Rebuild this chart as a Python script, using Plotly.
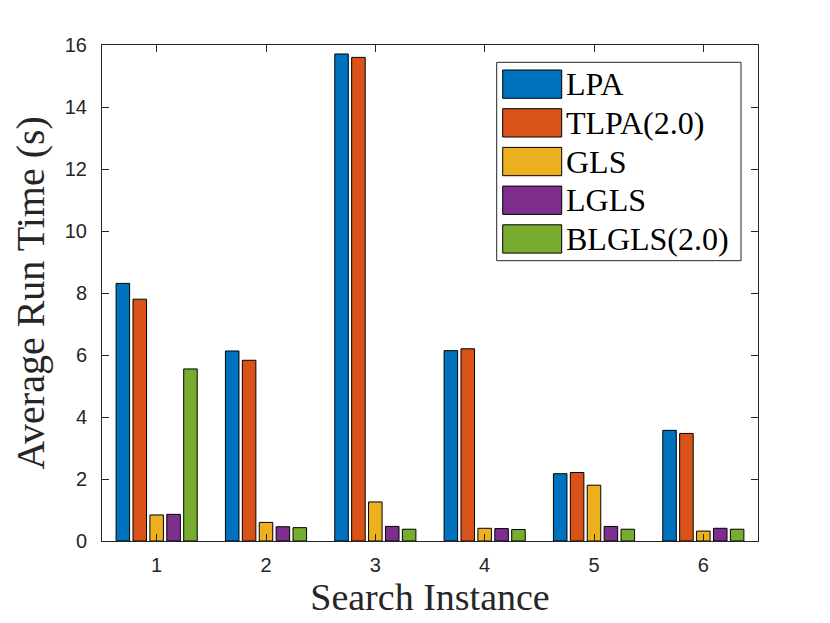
import plotly.graph_objects as go

instances = [1, 2, 3, 4, 5, 6]
series_names = ["LPA", "TLPA(2.0)", "GLS", "LGLS", "BLGLS(2.0)"]
lpa = [8.31, 6.13, 15.71, 6.14, 2.17, 3.57]
tlpa = [7.80, 5.83, 15.60, 6.20, 2.21, 3.47]
gls = [0.84, 0.60, 1.26, 0.41, 1.80, 0.32]
lgls = [0.86, 0.46, 0.47, 0.40, 0.47, 0.41]
blgls = [5.55, 0.43, 0.38, 0.37, 0.38, 0.38]
series_values = [lpa, tlpa, gls, lgls, blgls]
colors = ["#0072BD", "#D95319", "#EDB120", "#7E2F8E", "#77AC30"]
y_ticks = [0, 2, 4, 6, 8, 10, 12, 14, 16]

fig = go.Figure()
for name, vals, col in zip(series_names, series_values, colors):
    fig.add_trace(go.Bar(x=instances, y=vals, name=name, marker_color=col,
                         marker_line_color="#000000", marker_line_width=1,
                         showlegend=False))

axis_col = "#262626"
serif = "Liberation Serif, Times New Roman, serif"
sans = "Liberation Sans, Arial, Helvetica, sans-serif"

# page body has an 8px default margin; the figure is sized to fill the rest
fig.update_layout(
    width=822, height=615, autosize=False,
    margin=dict(l=94, r=72, t=37, b=82),
    paper_bgcolor="white", plot_bgcolor="white",
    barmode="group", bargap=0.227, bargroupgap=0.2,
    xaxis=dict(range=[0.5, 6.5], tickvals=instances, ticktext=[str(i) for i in instances],
               showline=True, linecolor=axis_col, linewidth=1, mirror="ticks",
               ticks="inside", ticklen=7, tickcolor=axis_col, showgrid=False, zeroline=False,
               ticklabelstandoff=6,
               tickfont=dict(family=sans, size=20, color=axis_col),
               title=dict(text="Search Instance", font=dict(family=serif, size=38, color=axis_col),
                          standoff=6)),
    yaxis=dict(range=[0, 16], tickvals=y_ticks, ticktext=[str(v) for v in y_ticks],
               showline=True, linecolor=axis_col, linewidth=1, mirror="ticks",
               ticks="inside", ticklen=7, tickcolor=axis_col, showgrid=False, zeroline=False,
               ticklabelstandoff=10,
               tickfont=dict(family=sans, size=20, color=axis_col),
               title=dict(text="Average Run Time (s)", font=dict(family=serif, size=40, color=axis_col),
                          standoff=8)),
)

# custom legend (MATLAB-style large swatches), positioned in page pixels
px0, px1, py0, py1 = 102.0, 758.0, 45.0, 541.0
def xp(p):
    return (p - px0) / (px1 - px0)
def yp(p):
    return (py1 - p) / (py1 - py0)

fig.add_shape(type="rect", xref="paper", yref="paper",
              x0=xp(496.7), x1=xp(741), y0=yp(260.7), y1=yp(62.3),
              line=dict(color="#262626", width=1), fillcolor="white")
for i, (name, col) in enumerate(zip(series_names, colors)):
    top = 70 + 38.7 * i
    bot = top + 28.3
    fig.add_shape(type="rect", xref="paper", yref="paper",
                  x0=xp(502.7), x1=xp(561.7), y0=yp(bot), y1=yp(top),
                  line=dict(color="#000000", width=1), fillcolor=col)
    fig.add_annotation(xref="paper", yref="paper", x=xp(564), y=yp((top + bot) / 2),
                       text=name, showarrow=False, xanchor="left", yanchor="middle",
                       font=dict(family=serif, size=32, color="#000000"))

fig.write_html("out.html")
